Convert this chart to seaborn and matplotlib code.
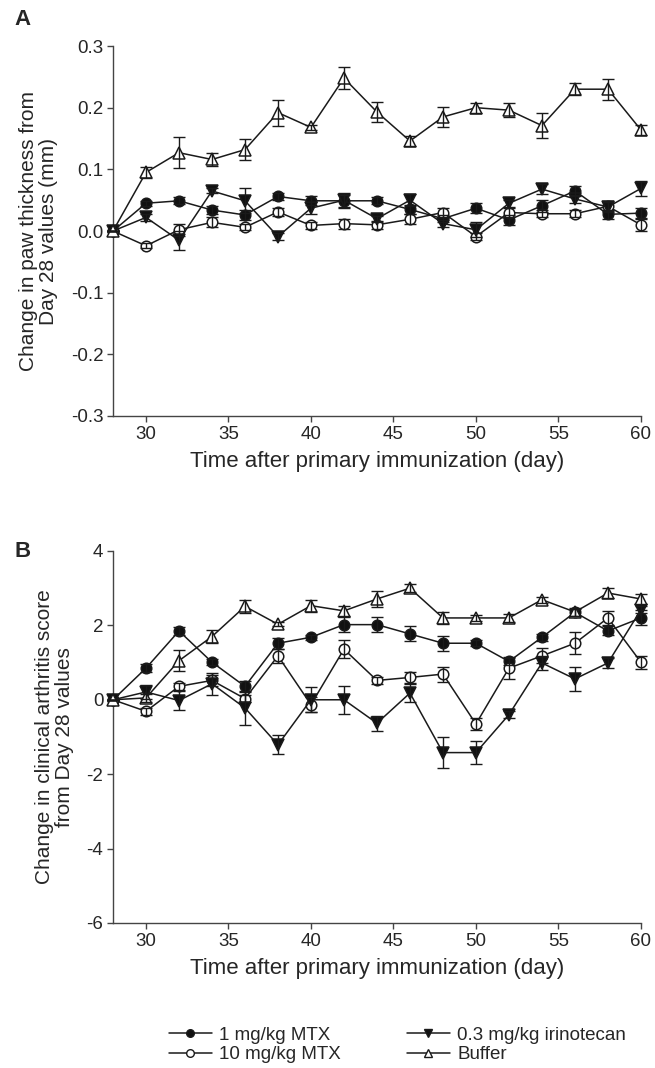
import numpy as np
import pandas as pd
import seaborn as sns
from matplotlib import pyplot as plt
from matplotlib.lines import Line2D

# days after primary immunization
days = list(range(28, 61, 2))

groups = ["1 mg/kg MTX", "10 mg/kg MTX", "0.3 mg/kg irinotecan", "Buffer"]

# panel A: change in paw thickness (mm)
paw_mtx1 = [0, 0.045, 0.049, 0.034, 0.026, 0.056, 0.049, 0.049, 0.049,
            0.035, 0.020, 0.037, 0.018, 0.041, 0.065, 0.027, 0.029]
paw_mtx10 = [0, -0.024, 0.002, 0.014, 0.006, 0.031, 0.009, 0.012, 0.010,
             0.019, 0.030, -0.009, 0.030, 0.028, 0.028, 0.040, 0.010]
paw_irino = [0, 0.022, -0.015, 0.065, 0.049, -0.009, 0.037, 0.050, 0.020,
             0.050, 0.012, 0.002, 0.045, 0.068, 0.052, 0.039, 0.069]
paw_buffer = [0, 0.095, 0.127, 0.116, 0.132, 0.192, 0.168, 0.248, 0.193,
              0.146, 0.185, 0.200, 0.196, 0.171, 0.230, 0.230, 0.164]

paw_mtx1_err = [0, 0.004, 0.006, 0.006, 0.008, 0.006, 0.007, 0.010, 0.006,
                0.007, 0.006, 0.008, 0.008, 0.010, 0.008, 0.007, 0.008]
paw_mtx10_err = [0, 0.004, 0.010, 0.008, 0.005, 0.006, 0.006, 0.008, 0.006,
                 0.008, 0.008, 0.005, 0.008, 0.006, 0.006, 0.008, 0.010]
paw_irino_err = [0, 0.006, 0.015, 0.004, 0.020, 0.005, 0.010, 0.012, 0.005,
                 0.010, 0.006, 0.012, 0.006, 0.008, 0.006, 0.008, 0.012]
paw_buffer_err = [0, 0.009, 0.025, 0.011, 0.017, 0.021, 0.004, 0.018, 0.016,
                  0.008, 0.016, 0.008, 0.011, 0.020, 0.010, 0.017, 0.008]

# panel B: change in clinical arthritis score
score_mtx1 = [0, 0.85, 1.85, 1.01, 0.36, 1.52, 1.68, 2.02, 2.02,
              1.77, 1.52, 1.52, 1.03, 1.68, 2.35, 1.85, 2.20]
score_mtx10 = [0, -0.31, 0.36, 0.52, 0.03, 1.18, -0.13, 1.36, 0.52,
               0.60, 0.69, -0.65, 0.85, 1.18, 1.52, 2.20, 1.01]
score_irino = [0, 0.21, -0.02, 0.43, -0.22, -1.21, 0.0, 0.0, -0.63,
               0.18, -1.42, -1.42, -0.40, 0.99, 0.56, 0.99, 2.42]
score_buffer = [0, 0.05, 1.05, 1.70, 2.51, 2.03, 2.53, 2.39, 2.71,
                3.00, 2.20, 2.20, 2.20, 2.69, 2.36, 2.87, 2.71]

score_mtx1_err = [0, 0.10, 0.10, 0.08, 0.15, 0.15, 0.07, 0.20, 0.20,
                  0.20, 0.20, 0.08, 0.10, 0.10, 0.10, 0.12, 0.20]
score_mtx10_err = [0, 0.10, 0.10, 0.15, 0.10, 0.18, 0.20, 0.25, 0.10,
                   0.15, 0.20, 0.15, 0.30, 0.20, 0.30, 0.18, 0.18]
score_irino_err = [0, 0.20, 0.25, 0.30, 0.45, 0.25, 0.33, 0.38, 0.20,
                   0.25, 0.42, 0.30, 0.10, 0.20, 0.32, 0.13, 0.10]
score_buffer_err = [0, 0.10, 0.28, 0.17, 0.17, 0.05, 0.16, 0.13, 0.21,
                    0.10, 0.16, 0.08, 0.10, 0.08, 0.10, 0.14, 0.13]

# marker style per group: (marker, facecolor)
STYLES = {
    "1 mg/kg MTX": ("o", "#111111"),
    "10 mg/kg MTX": ("o", "white"),
    "0.3 mg/kg irinotecan": ("v", "#111111"),
    "Buffer": ("^", "white"),
}
INK = "#1a1a1a"

sns.set_style("ticks")
plt.rcParams["font.family"] = ["Liberation Sans", "DejaVu Sans"]


def draw_panel(ax, values, errors, ylim, yticks, yfmt, ylabel):
    """ one panel: lines+markers via seaborn, capped error bars on top """
    for g, y, e in zip(groups, values, errors):
        df = pd.DataFrame({"day": days, "value": y})
        marker, face = STYLES[g]
        sns.lineplot(data=df, x="day", y="value", ax=ax, color=INK,
                     marker=marker, markersize=9 if marker != "o" else 7.6,
                     markerfacecolor=face, markeredgecolor=INK,
                     markeredgewidth=1.1, linewidth=1.1, zorder=3,
                     clip_on=False)
        ax.errorbar(days, y, yerr=e, fmt="none", ecolor=INK,
                    elinewidth=1.0, capsize=4.5, capthick=1.0, zorder=4,
                    clip_on=False)

    ax.set_xlim(28, 60)
    ax.set_ylim(*ylim)
    ax.set_xticks(range(30, 61, 5))
    ax.set_yticks(yticks)
    ax.set_yticklabels([yfmt.format(v) for v in yticks])
    ax.tick_params(labelsize=13.5, direction="out", length=4, width=1,
                   color="#444444", pad=3)
    for s in ("left", "bottom"):
        ax.spines[s].set_color("#444444")
        ax.spines[s].set_linewidth(1.0)
    sns.despine(ax=ax)
    ax.set_xlabel("Time after primary immunization (day)", fontsize=16,
                  labelpad=6)
    ax.set_ylabel(ylabel, fontsize=15, labelpad=9, linespacing=1.05)


fig = plt.figure(figsize=(6.55, 10.68), dpi=100)
axA = fig.add_axes([0.1725, 0.6105, 0.806, 0.3464])
axB = fig.add_axes([0.1725, 0.1358, 0.806, 0.3483])

draw_panel(axA,
           [paw_mtx1, paw_mtx10, paw_irino, paw_buffer],
           [paw_mtx1_err, paw_mtx10_err, paw_irino_err, paw_buffer_err],
           (-0.3, 0.3), [-0.3, -0.2, -0.1, 0.0, 0.1, 0.2, 0.3], "{:.1f}",
           "Change in paw thickness from\nDay 28 values (mm)")
draw_panel(axB,
           [score_mtx1, score_mtx10, score_irino, score_buffer],
           [score_mtx1_err, score_mtx10_err, score_irino_err, score_buffer_err],
           (-6, 4), [-6, -4, -2, 0, 2, 4], "{:.0f}",
           "Change in clinical arthritis score\nfrom Day 28 values")

fig.text(0.022, 0.982, "A", fontsize=16, fontweight="bold", va="center")
fig.text(0.022, 0.484, "B", fontsize=16, fontweight="bold", va="center")

handles = []
for g in groups:
    marker, face = STYLES[g]
    handles.append(Line2D([], [], color=INK, marker=marker, markersize=5.5,
                          markerfacecolor=face, markeredgecolor=INK,
                          markeredgewidth=1.0, linewidth=1.1))
fig.legend(handles, groups, ncol=2, loc="center", bbox_to_anchor=(0.607, 0.0215),
           frameon=False, fontsize=13.5, handlelength=2.3, handletextpad=0.4,
           columnspacing=3.5, labelspacing=0.12, borderpad=0)

fig.savefig("out.png", dpi=100)
